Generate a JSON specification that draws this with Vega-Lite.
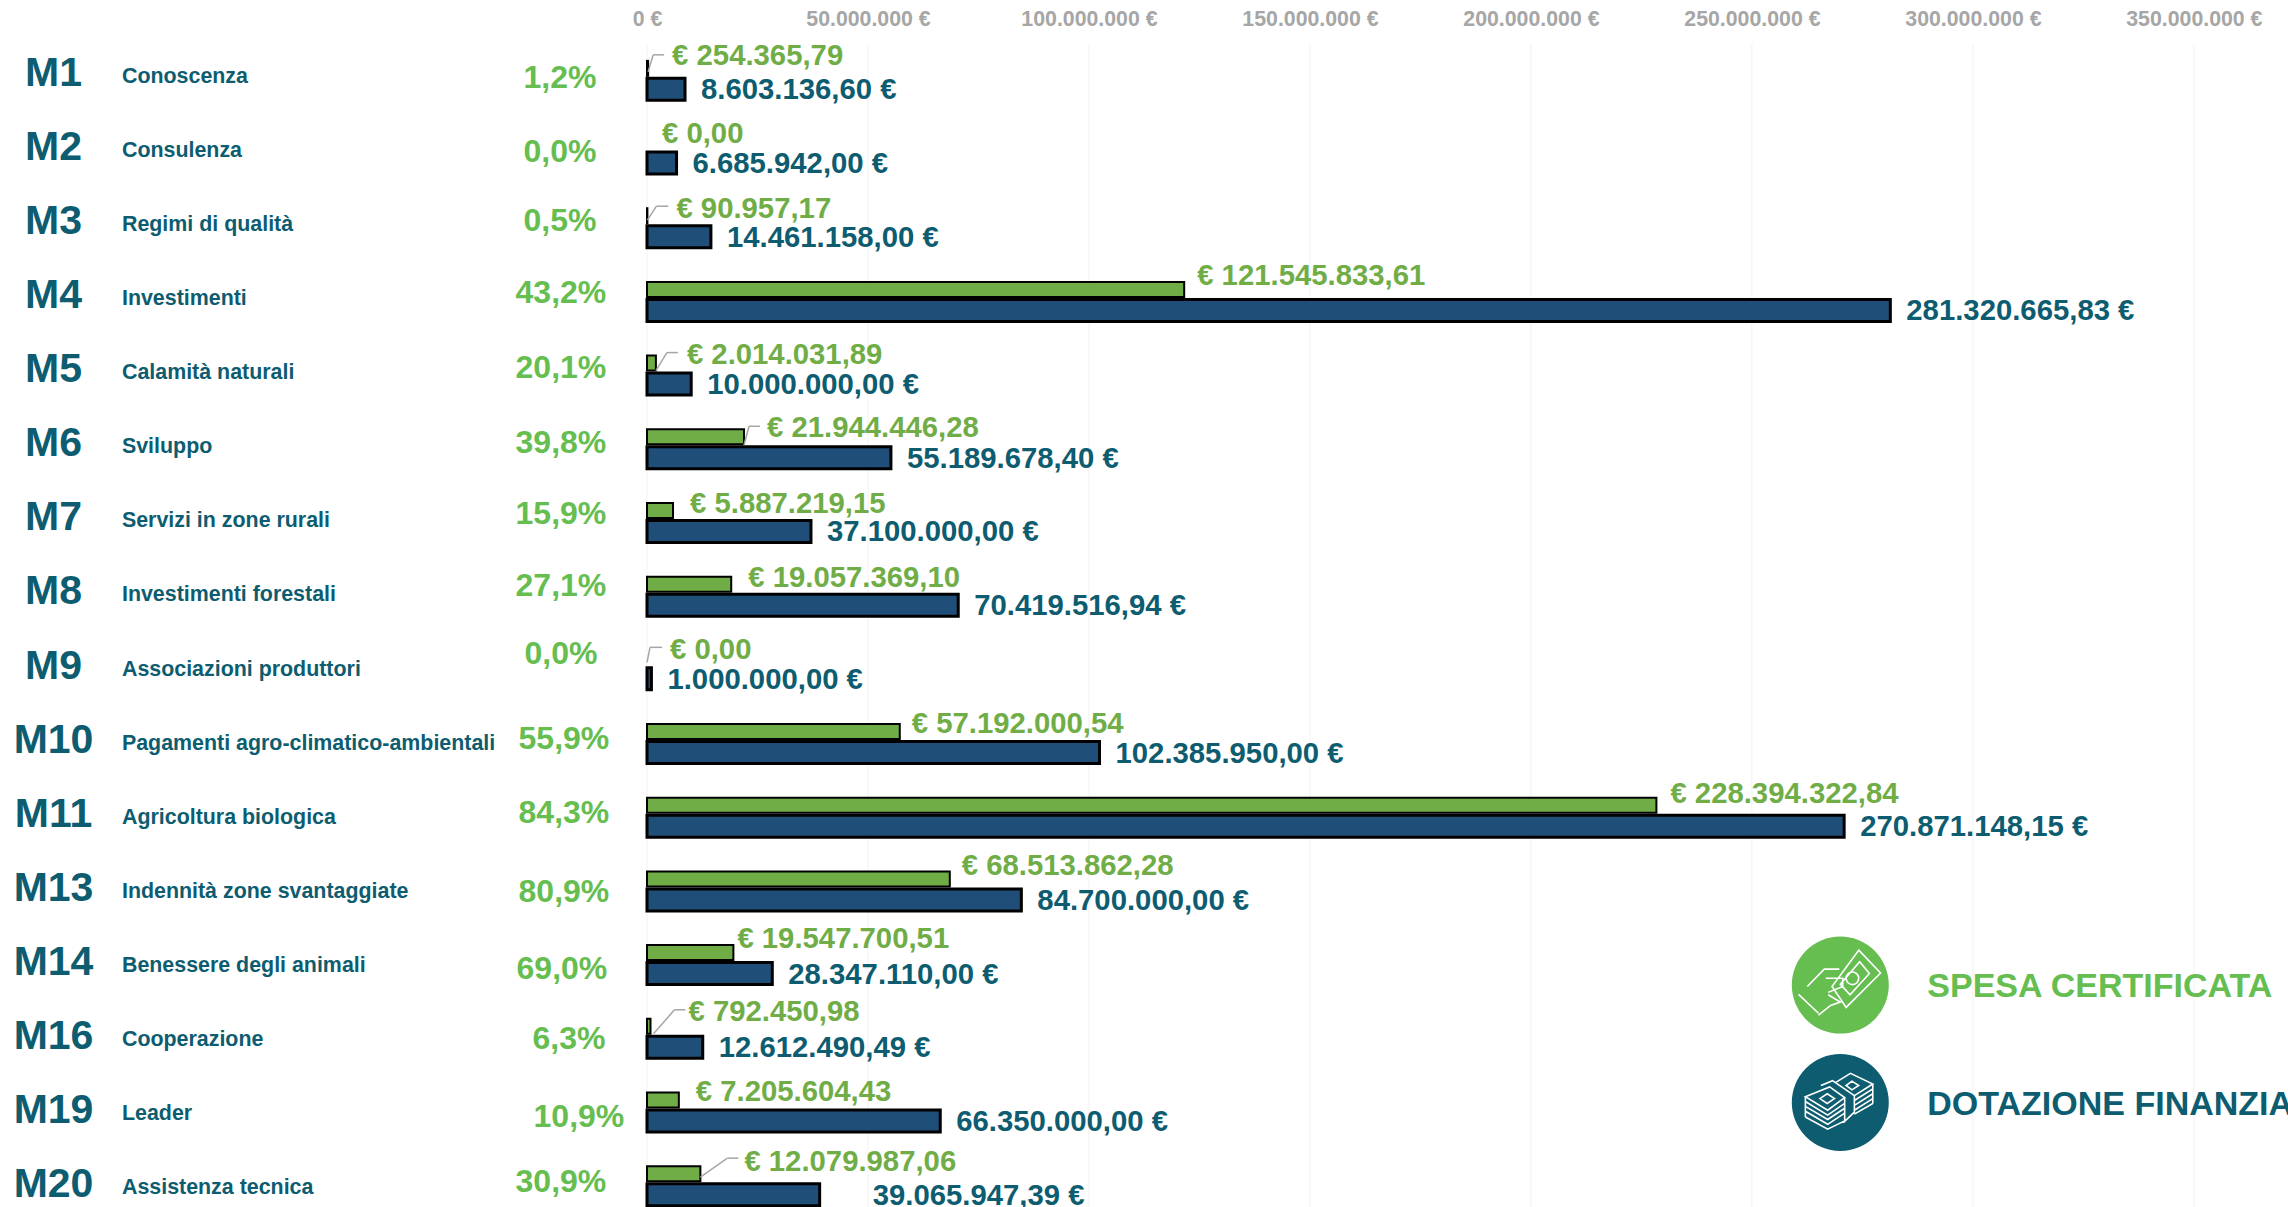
{"$schema":"https://vega.github.io/schema/vega-lite/v6.json","width":1641,"height":1163,"autosize":{"type":"none"},"padding":{"left":647,"top":44,"right":0,"bottom":0},"background":"white","config":{"view":{"stroke":null},"font":"Liberation Sans"},
"params":[
{"name":"gd","value":{"M1":[24,-24.5],"M2":[15,-21],"M3":[29,-19.5],"M4":[13,-26],"M5":[31,-21],"M6":[23,-21],"M7":[17,-19],"M8":[17,-19],"M9":[23,-20.5],"M10":[12,-20.5],"M11":[14,-24],"M13":[12,-25],"M14":[4,-26],"M16":[38,-27],"M19":[17,-20.5],"M20":[44,-24.5]}},
{"name":"ld","value":{"M1":[0,-9,5,-26,16],"M3":[0,-8,9,-22,21],"M5":[0,-5,11,-23,22],"M6":[0,-4,5,-23,16],"M9":[0,-8,3,-23,15],"M16":[3,-5,24,-29,35],"M20":[0,-9,27,-28,38]}},
{"name":"pd","value":{"M1":[0,-2.5],"M2":[0,-2.5],"M3":[0,-7.5],"M4":[1,-8.5],"M5":[1,-7.5],"M6":[1,-6.5],"M7":[1,-8.5],"M8":[1,-10.5],"M9":[1,-16.5],"M10":[4,-5.5],"M11":[4,-4.5],"M13":[4,0.5],"M14":[2,3.5],"M16":[9,0.5],"M19":[19,4.5],"M20":[1,-4.5]}}
],
"data":{"values":[
{"code":"M1","misura":"Conoscenza","spesa":254365.79,"dotazione":8603136.60,"spesaTxt":"€ 254.365,79","dotazioneTxt":"8.603.136,60 €","pct":"1,2%"},
{"code":"M2","misura":"Consulenza","spesa":0,"dotazione":6685942,"spesaTxt":"€ 0,00","dotazioneTxt":"6.685.942,00 €","pct":"0,0%"},
{"code":"M3","misura":"Regimi di qualità","spesa":90957.17,"dotazione":14461158,"spesaTxt":"€ 90.957,17","dotazioneTxt":"14.461.158,00 €","pct":"0,5%"},
{"code":"M4","misura":"Investimenti","spesa":121545833.61,"dotazione":281320665.83,"spesaTxt":"€ 121.545.833,61","dotazioneTxt":"281.320.665,83 €","pct":"43,2%"},
{"code":"M5","misura":"Calamità naturali","spesa":2014031.89,"dotazione":10000000,"spesaTxt":"€ 2.014.031,89","dotazioneTxt":"10.000.000,00 €","pct":"20,1%"},
{"code":"M6","misura":"Sviluppo","spesa":21944446.28,"dotazione":55189678.40,"spesaTxt":"€ 21.944.446,28","dotazioneTxt":"55.189.678,40 €","pct":"39,8%"},
{"code":"M7","misura":"Servizi in zone rurali","spesa":5887219.15,"dotazione":37100000,"spesaTxt":"€ 5.887.219,15","dotazioneTxt":"37.100.000,00 €","pct":"15,9%"},
{"code":"M8","misura":"Investimenti forestali","spesa":19057369.10,"dotazione":70419516.94,"spesaTxt":"€ 19.057.369,10","dotazioneTxt":"70.419.516,94 €","pct":"27,1%"},
{"code":"M9","misura":"Associazioni produttori","spesa":0,"dotazione":1000000,"spesaTxt":"€ 0,00","dotazioneTxt":"1.000.000,00 €","pct":"0,0%"},
{"code":"M10","misura":"Pagamenti agro-climatico-ambientali","spesa":57192000.54,"dotazione":102385950,"spesaTxt":"€ 57.192.000,54","dotazioneTxt":"102.385.950,00 €","pct":"55,9%"},
{"code":"M11","misura":"Agricoltura biologica","spesa":228394322.84,"dotazione":270871148.15,"spesaTxt":"€ 228.394.322,84","dotazioneTxt":"270.871.148,15 €","pct":"84,3%"},
{"code":"M13","misura":"Indennità zone svantaggiate","spesa":68513862.28,"dotazione":84700000,"spesaTxt":"€ 68.513.862,28","dotazioneTxt":"84.700.000,00 €","pct":"80,9%"},
{"code":"M14","misura":"Benessere degli animali","spesa":19547700.51,"dotazione":28347110,"spesaTxt":"€ 19.547.700,51","dotazioneTxt":"28.347.110,00 €","pct":"69,0%"},
{"code":"M16","misura":"Cooperazione","spesa":792450.98,"dotazione":12612490.49,"spesaTxt":"€ 792.450,98","dotazioneTxt":"12.612.490,49 €","pct":"6,3%"},
{"code":"M19","misura":"Leader","spesa":7205604.43,"dotazione":66350000,"spesaTxt":"€ 7.205.604,43","dotazioneTxt":"66.350.000,00 €","pct":"10,9%"},
{"code":"M20","misura":"Assistenza tecnica","spesa":12079987.06,"dotazione":39065947.39,"spesaTxt":"€ 12.079.987,06","dotazioneTxt":"39.065.947,39 €","pct":"30,9%"}
]},
"encoding":{"x":{"type":"quantitative","scale":{"domain":[0,371300000],"nice":false,"zero":false}}},
"layer":[
{"encoding":{"y":{"field":"code","type":"nominal","sort":null,"axis":null,"scale":{"domain":["M1","M2","M3","M4","M5","M6","M7","M8","M9","M10","M11","M13","M14","M16","M19","M20"],"range":[0,1179],"paddingInner":0,"paddingOuter":0}}},
"layer":[
{"data":{"values":[{"tick":0},{"tick":50000000},{"tick":100000000},{"tick":150000000},{"tick":200000000},{"tick":250000000},{"tick":300000000},{"tick":350000000}]},"mark":{"type":"rule","stroke":"#F2F2F2","strokeWidth":1},"encoding":{"y":{"value":0},"y2":{"value":1163},"x":{"field":"tick","type":"quantitative","title":null,"axis":{"orient":"top","values":[0,50000000,100000000,150000000,200000000,250000000,300000000,350000000],"domain":false,"ticks":false,"grid":false,"title":null,"labelExpr":"replace(format(datum.value,','),regexp(',','g'),'.')+' €'","labelFontSize":21.3,"labelFontWeight":"bold","labelColor":"#A6A6A6","labelPadding":15,"labelFlush":false,"labelFont":"Liberation Sans"}}}},
{"transform":[{"filter":"datum.spesa>0"}],"mark":{"type":"bar","fill":"#70AD47","stroke":"#000000","strokeWidth":2,"size":15,"yOffset":-12.5},"encoding":{"x":{"field":"spesa","type":"quantitative"}}},
{"mark":{"type":"bar","fill":"#1F4E79","stroke":"#000000","strokeWidth":3,"size":22,"yOffset":8.5},"encoding":{"x":{"field":"dotazione","type":"quantitative"}}},
{"transform":[{"filter":"isValid(ld[datum.code])"}],"mark":{"type":"rule","stroke":"#A6A6A6","strokeWidth":1.5,"xOffset":{"expr":"ld[datum.code][0]"},"x2Offset":{"expr":"ld[datum.code][2]"},"yOffset":{"expr":"ld[datum.code][1]"},"y2Offset":{"expr":"ld[datum.code][3]"}},"encoding":{"x":{"field":"spesa","type":"quantitative"},"x2":{"field":"spesa"},"y2":{"field":"code"}}},
{"transform":[{"filter":"isValid(ld[datum.code])"}],"mark":{"type":"rule","stroke":"#A6A6A6","strokeWidth":1.5,"xOffset":{"expr":"ld[datum.code][2]"},"x2Offset":{"expr":"ld[datum.code][4]"},"yOffset":{"expr":"ld[datum.code][3]"},"y2Offset":{"expr":"ld[datum.code][3]"}},"encoding":{"x":{"field":"spesa","type":"quantitative"},"x2":{"field":"spesa"},"y2":{"field":"code"}}},
{"mark":{"type":"text","align":"left","baseline":"middle","fontSize":29.3,"fontWeight":"bold","fill":"#70AD47","dx":{"expr":"gd[datum.code][0]"},"dy":{"expr":"gd[datum.code][1]"}},"encoding":{"x":{"field":"spesa","type":"quantitative"},"text":{"field":"spesaTxt"}}},
{"mark":{"type":"text","align":"left","baseline":"middle","fontSize":29.3,"fontWeight":"bold","fill":"#0D5C70","dx":{"expr":"datum.code=='M20'?53:16"},"dy":9.5},"encoding":{"x":{"field":"dotazione","type":"quantitative"},"text":{"field":"dotazioneTxt"}}},
{"mark":{"type":"text","align":"center","baseline":"middle","fontSize":32,"fontWeight":"bold","fill":"#66BD50","dx":{"expr":"pd[datum.code][0]"},"dy":{"expr":"pd[datum.code][1]"}},"encoding":{"x":{"datum":-19700000,"type":"quantitative"},"text":{"field":"pct"}}}
]},
{"encoding":{"y":{"field":"code","type":"nominal","sort":null,"title":null,"axis":{"orient":"left","domain":false,"ticks":false,"title":null,"labelFontSize":41,"labelFontWeight":"bold","labelColor":"#0D5C70","labelAlign":"center","labelBaseline":"middle","labelPadding":594,"labelOffset":-2.5,"labelFont":"Liberation Sans"},"scale":{"domain":["M1","M2","M3","M4","M5","M6","M7","M8","M9","M10","M11","M13","M14","M16","M19","M20"],"range":[-5,1180],"paddingInner":0,"paddingOuter":0}}},
"layer":[
{"mark":{"type":"text","align":"left","baseline":"middle","fontSize":21.4,"fontWeight":"bold","fill":"#0D5C70","dy":1},"encoding":{"x":{"datum":-118800000,"type":"quantitative"},"text":{"field":"misura"}}}
]},
{"data":{"values":[{"voce":"SPESA CERTIFICATA","riga":"M14","pos":270000000},{"voce":"DOTAZIONE FINANZIARIA","riga":"M19","pos":270000000}]},
"encoding":{"y":{"field":"riga","type":"nominal","axis":null,"scale":{"domain":["M1","M2","M3","M4","M5","M6","M7","M8","M9","M10","M11","M13","M14","M16","M19","M20"],"range":[0,1179],"paddingInner":0,"paddingOuter":0}},"x":{"field":"pos","type":"quantitative"}},
"layer":[
{"mark":{"type":"point","shape":"circle","filled":true,"size":9409,"opacity":1,"yOffset":{"expr":"datum.voce[0]=='S'?20:-10"}},"encoding":{"color":{"field":"voce","type":"nominal","legend":null,"scale":{"domain":["SPESA CERTIFICATA","DOTAZIONE FINANZIARIA"],"range":["#66BD50","#0D5C70"]}}}},
{"transform":[{"filter":"datum.voce[0]=='S'"}],"mark":{"type":"point","filled":false,"stroke":"#FFFFFF","strokeWidth":1.6,"opacity":1,"size":9409,"yOffset":20,"shape":"M.38 -.72 L.83 -.25 L.12 .46 L-.17 .03 Z M.4 -.48 L.6 -.24 L.2 .2 L0 -.02 Z M.38 -.14 A.13 .13 0 1 1 .12 -.14 A.13 .13 0 1 1 .38 -.14 Z M-.86 .19 L-.45 .58 M-.68 .03 L-.33 -.33 L-.02 -.33 M-.3 -.14 L.05 -.14 L.05 .03 L-.25 .15 M-.25 .2 L0 .35 L-.2 .42 L-.45 .62"}},
{"transform":[{"filter":"datum.voce[0]=='D'"}],"mark":{"type":"point","filled":false,"stroke":"#FFFFFF","strokeWidth":1.6,"opacity":1,"size":9409,"yOffset":-10,"shape":"M-.72 -.12 L-.22 -.32 L.09 -.1 L-.26 .16 Z M-.72 -.02 L-.26 .26 L.09 .02 M-.72 .08 L-.26 .35 L.09 .12 M-.72 .18 L-.26 .45 L.09 .22 M-.72 .3 L-.26 .55 L.09 .38 M-.72 -.12 L-.72 .3 M-.4 -.35 L-.16 -.45 L.29 -.14 L.29 .2 L.09 .39 L.09 -.1 M-.1 -.41 L.21 -.6 L.67 -.38 L.29 -.14 M.29 -.04 L.67 -.28 M.29 .06 L.67 -.18 M.29 .16 L.67 -.08 M.29 .24 L.67 .02 M.67 -.38 L.67 .02 M-.42 -.08 L-.27 -.18 L-.12 -.08 L-.27 .02 Z M.12 -.35 L.24 -.44 L.38 -.35 L.24 -.26 Z"}},
{"mark":{"type":"text","align":"left","baseline":"middle","fontSize":34,"fontWeight":"bold","dx":87,"dy":{"expr":"datum.voce[0]=='S'?22:-7"}},"encoding":{"text":{"field":"voce"},"color":{"field":"voce","type":"nominal","legend":null}}}
]}
],
"resolve":{"scale":{"y":"independent"}}}
